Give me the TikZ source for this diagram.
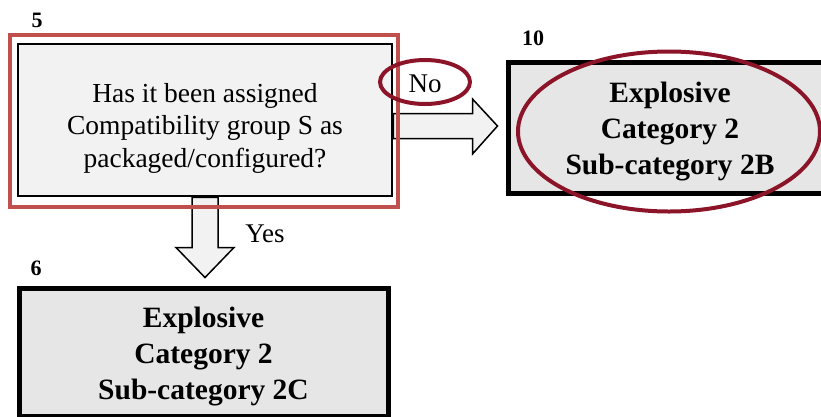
\documentclass[tikz,border=0pt]{standalone}
\usepackage{fontspec}
\setmainfont{Liberation Serif}
\usetikzlibrary{calc}
\definecolor{boxred}{RGB}{192,80,77}
\definecolor{ringred}{RGB}{140,20,40}
\definecolor{lightfill}{RGB}{242,242,242}
\definecolor{darkfill}{RGB}{230,230,230}
\begin{document}
\begin{tikzpicture}[x=1pt,y=-1pt,
 qbox/.style={draw=black,line width=2.5pt,fill=lightfill,minimum width=374pt,minimum height=152pt,align=center,font=\fontsize{27.5}{32.5}\selectfont,inner sep=0pt},
 rbox/.style={draw=black,line width=5pt,fill=darkfill,align=center,font=\bfseries\fontsize{29.5}{36}\selectfont,inner sep=0pt},
 btext/.style={align=center,font=\bfseries\fontsize{29.5}{36}\selectfont,inner sep=0pt},
 numlbl/.style={font=\bfseries\fontsize{22}{22}\selectfont,inner sep=0pt},
 anslbl/.style={font=\fontsize{27}{27}\selectfont,inner sep=0pt},
 fatarrow/.style={draw=black,line width=1.5pt,fill=lightfill,line join=miter},
 ring/.style={draw=ringred,line width=4pt},
 hilite/.style={draw=boxred,line width=4pt},
]
\useasboundingbox (0,0) rectangle (821,416);
\node[qbox] (q) at (205,120) {\rule{0pt}{35pt}Has it been assigned\\Compatibility group S as\\packaged/configured?};
\node[rbox,minimum width=360pt,minimum height=131pt] (c2b) at (688,127.5) {};
\node[btext] (t2b) at (670,131.5) {Explosive\\Category 2\\Sub-category 2B};
\node[rbox,minimum width=369pt,minimum height=128pt] (c2c) at (203.5,352) {\rule{0pt}{29pt}Explosive\\Category 2\\Sub-category 2C};
\node[numlbl] (n5) at (37,20) {5};
\node[numlbl] (n10) at (533,38) {10};
\node[numlbl] (n6) at (36,268) {6};
% No arrow
\path (q.east) ++(0,6) coordinate (na);
\coordinate (nb) at (c2b.west |- na);
\draw[fatarrow] ($(na)+(0,-12.5)$) -- ($(nb)+(-33,-12.5)$) -- ($(nb)+(-33,-27)$) -- ($(nb)+(-8,0)$) -- ($(nb)+(-33,28)$) -- ($(nb)+(-33,12.5)$) -- ($(na)+(0,12.5)$) -- cycle;
% Yes arrow
\coordinate (da) at (q.south);
\coordinate (db) at (q.south |- c2c.north);
\draw[fatarrow] ($(da)+(-13,0)$) -- ($(db)+(-13,-38)$) -- ($(db)+(-29,-38)$) -- ($(db)+(0,-8)$) -- ($(db)+(29,-38)$) -- ($(db)+(13,-38)$) -- ($(da)+(13,0)$) -- cycle;
\draw[hilite] ($(q.north west)+(-7,-8)$) rectangle ($(q.south east)+(5,10)$);
\node[anslbl] (no) at (425,84) {No};
\node[anslbl] (yes) at (265,234) {Yes};
\draw[ring] ($(no)+(0,-2)$) ellipse [x radius=45,y radius=22];
\draw[ring] ($(t2b.center)+(-1,0)$) ellipse [x radius=151,y radius=80];
\end{tikzpicture}
\end{document}
